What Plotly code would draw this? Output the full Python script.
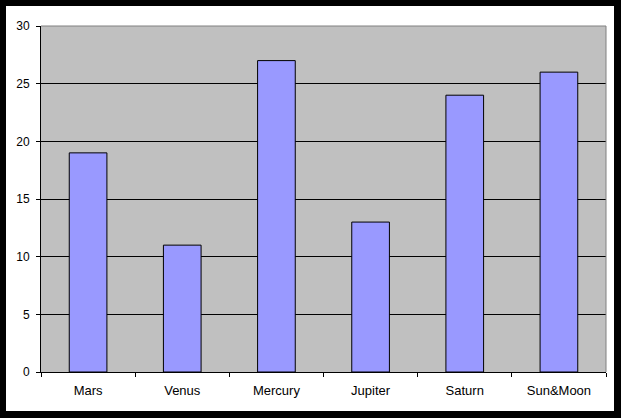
import plotly.graph_objects as go

categories = ["Mars", "Venus", "Mercury", "Jupiter", "Saturn", "Sun&Moon"]
values = [19, 11, 27, 13, 24, 26]
y_ticks = [0, 5, 10, 15, 20, 25, 30]

W, H = 621, 418
L, R, T, B = 41, 606, 26, 372
pw, ph = R - L, B - T

def px(x):
    return (x - L) / pw

def py(y):
    return (B - y) / ph

fig = go.Figure(go.Bar(
    x=categories, y=values, width=0.4,
    marker=dict(color="#9999FF", line=dict(color="black", width=1)),
))

shapes = []
# outer black frame
for x0, x1, y0, y1 in [(0, 6, 0, H), (614, W, 0, H), (0, W, 0, 6), (0, W, 411, H)]:
    shapes.append(dict(type="rect", xref="paper", yref="paper",
                       x0=px(x0), x1=px(x1), y0=py(y1), y1=py(y0),
                       fillcolor="black", line=dict(width=0), layer="above"))
# gray plot border top and right
shapes.append(dict(type="line", xref="paper", yref="paper", x0=0, x1=1, y0=1, y1=1,
                   line=dict(color="#808080", width=1), layer="above"))
shapes.append(dict(type="line", xref="paper", yref="paper", x0=1, x1=1, y0=0, y1=1,
                   line=dict(color="#808080", width=1), layer="above"))

fig.update_layout(
    width=W, height=H,
    margin=dict(l=L, r=W - R, t=T, b=H - B, pad=0),
    paper_bgcolor="white", plot_bgcolor="#C0C0C0",
    font=dict(family="Liberation Sans, Arial, sans-serif", color="black", size=13),
    showlegend=False, bargap=0.6,
    shapes=shapes,
    xaxis=dict(type="category", range=[-0.5, 5.5], showgrid=False,
               showline=True, linecolor="black", linewidth=1,
               ticks="outside", tickson="boundaries", ticklen=4, tickcolor="black",
               ticklabelstandoff=6, tickfont=dict(size=13)),
    yaxis=dict(range=[0, 30], tickvals=y_ticks, showgrid=True, gridcolor="black", gridwidth=1,
               showline=True, linecolor="black", linewidth=1, zeroline=False,
               ticks="outside", ticklen=4, tickcolor="black",
               ticklabelstandoff=4, tickfont=dict(size=12)),
)

fig.write_html("out.html", config={"displayModeBar": False},
               post_script="document.body.style.margin='0';document.body.style.overflow='hidden';")
